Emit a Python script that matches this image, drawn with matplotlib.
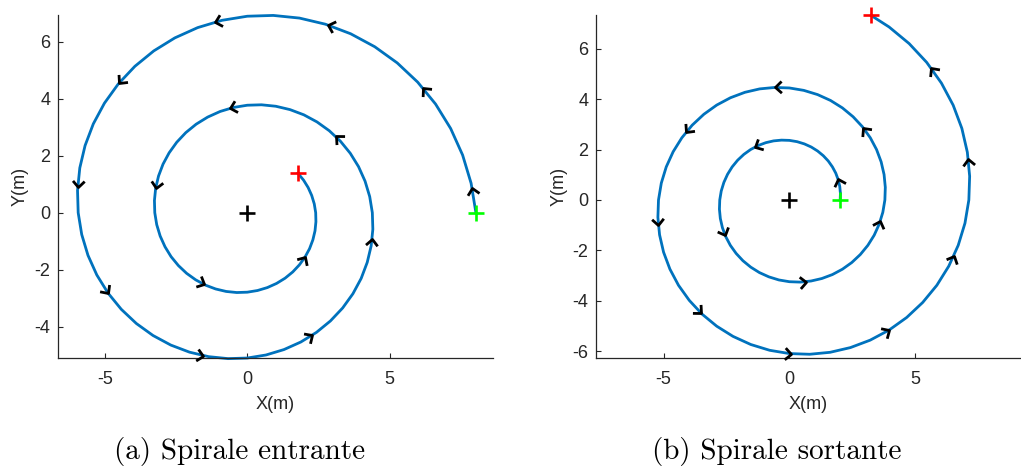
import numpy as np
import matplotlib
matplotlib.use('Agg')
import matplotlib.pyplot as plt
from matplotlib.markers import MarkerStyle
from matplotlib.path import Path
from matplotlib.transforms import Affine2D

# spirale entrante (a): points read along the trajectory
x_in = [8.020, 7.852, 7.554, 7.135, 6.605, 5.976, 5.259, 4.471, 3.627, 2.741, 1.831, 0.912,
        0.000, -0.889, -1.741, -2.542, -3.280, -3.943, -4.523, -5.011, -5.401, -5.690, -5.875, -5.955,
        -5.932, -5.808, -5.588, -5.278, -4.885, -4.420, -3.890, -3.307, -2.683, -2.027, -1.354, -0.674,
        0.000, 0.657, 1.287, 1.880, 2.426, 2.916, 3.345, 3.706, 3.995, 4.208, 4.346, 4.405,
        4.387, 4.295, 4.132, 3.903, 3.613, 3.269, 2.877, 2.445, 1.984, 1.499, 1.001, 0.499,
        0.000, -0.486, -0.952, -1.390, -1.794, -2.157, -2.474, -2.741, -2.955, -3.113, -3.214, -3.257,
        -3.245, -3.177, -3.056, -2.886, -2.673, -2.417, -2.128, -1.809, -1.468, -1.109, -0.741, -0.369,
        0.000, 0.360, 0.704, 1.028, 1.327, 1.595, 1.829, 2.027, 2.185, 2.301, 2.376, 2.408,
        2.400, 2.350, 2.260, 2.135, 1.976, 1.775]
y_in = [0.000, 1.034, 2.024, 2.955, 3.814, 4.585, 5.259, 5.826, 6.281, 6.617, 6.832, 6.925,
        6.897, 6.753, 6.497, 6.136, 5.680, 5.139, 4.523, 3.845, 3.119, 2.357, 1.574, 0.784,
        0.000, -0.765, -1.497, -2.186, -2.821, -3.391, -3.890, -4.310, -4.646, -4.895, -5.053, -5.122,
        -5.101, -4.994, -4.804, -4.538, -4.201, -3.800, -3.345, -2.844, -2.307, -1.743, -1.164, -0.580,
        0.000, 0.565, 1.107, 1.617, 2.086, 2.508, 2.877, 3.187, 3.436, 3.619, 3.737, 3.788,
        3.773, 3.694, 3.554, 3.356, 3.107, 2.811, 2.474, 2.103, 1.706, 1.289, 0.861, 0.429,
        0.000, -0.418, -0.819, -1.196, -1.543, -1.855, -2.128, -2.357, -2.542, -2.677, -2.764, -2.802,
        -2.790, -2.731, -2.628, -2.482, -2.298, -2.079, -1.829, -1.555, -1.262, -0.953, -0.637, -0.317,
        0.000, 0.309, 0.606, 0.884, 1.141, 1.387]
# arrows (position + heading in degrees)
ax_in = [7.891, 6.169, 2.837, -1.132, -4.495, -5.950, -4.880, -1.552, 2.271, 4.381, 3.097, -0.613, -3.215, -1.523, 2.032]
ay_in = [0.857, 4.368, 6.587, 6.692, 4.557, 0.911, -2.828, -5.016, -4.307, -0.907, 2.682, 3.663, 0.855, -2.516, -1.548]
ad_in = [101.7, 130.8, 162.2, 195.1, 230.1, 266.8, 305.6, 348.3, 33.3, 83.8, 136.4, 195.0, 260.6, 334.3, 58.2]

# spirale sortante (b)
x_out = [2.020, 2.029, 2.003, 1.941, 1.844, 1.711, 1.546, 1.348, 1.122, 0.870, 0.596, 0.305,
         0.000, -0.313, -0.628, -0.941, -1.246, -1.538, -1.810, -2.057, -2.275, -2.459, -2.605, -2.710,
         -2.769, -2.782, -2.746, -2.662, -2.528, -2.347, -2.119, -1.849, -1.538, -1.193, -0.817, -0.418,
         0.000, 0.429, 0.862, 1.291, 1.709, 2.108, 2.481, 2.820, 3.119, 3.372, 3.572, 3.715,
         3.797, 3.814, 3.765, 3.649, 3.466, 3.217, 2.905, 2.534, 2.109, 1.636, 1.121, 0.573,
         0.000, -0.588, -1.181, -1.770, -2.343, -2.890, -3.401, -3.867, -4.276, -4.622, -4.897, -5.093,
         -5.205, -5.229, -5.162, -5.003, -4.751, -4.410, -3.982, -3.474, -2.891, -2.242, -1.536, -0.785,
         0.000, 0.806, 1.619, 2.426, 3.212, 3.962, 4.663, 5.300, 5.863, 6.338, 6.713, 6.982,
         7.136, 7.168, 7.076, 6.858, 6.513, 6.045, 5.460, 4.762, 3.964, 3.252]
y_out = [0.000, 0.267, 0.537, 0.804, 1.065, 1.313, 1.546, 1.757, 1.943, 2.101, 2.225, 2.314,
         2.365, 2.375, 2.345, 2.273, 2.159, 2.004, 1.810, 1.579, 1.314, 1.019, 0.698, 0.357,
         0.000, -0.366, -0.736, -1.103, -1.460, -1.801, -2.119, -2.409, -2.664, -2.880, -3.050, -3.173,
         -3.243, -3.258, -3.215, -3.116, -2.960, -2.747, -2.481, -2.164, -1.801, -1.397, -0.957, -0.489,
         0.000, 0.502, 1.009, 1.512, 2.001, 2.469, 2.905, 3.302, 3.653, 3.949, 4.182, 4.349,
         4.445, 4.465, 4.408, 4.272, 4.057, 3.766, 3.401, 2.967, 2.469, 1.915, 1.312, 0.671,
         0.000, -0.688, -1.383, -2.072, -2.743, -3.384, -3.982, -4.528, -5.007, -5.412, -5.734, -5.964,
         -6.094, -6.122, -6.044, -5.857, -5.562, -5.163, -4.663, -4.067, -3.385, -2.625, -1.799, -0.919,
         0.000, 0.944, 1.896, 2.841, 3.761, 4.639, 5.460, 6.206, 6.865, 7.321]
ax_out = [1.927, -1.365, -2.558, 0.660, 3.610, 2.936, -0.572, -4.098, -5.211, -3.524, 0.074, 3.942, 6.535, 7.114, 5.627]
ay_out = [0.850, 2.102, -1.389, -3.242, -0.853, 2.865, 4.466, 2.702, -0.976, -4.479, -6.100, -5.175, -2.225, 1.630, 5.247]
ad_out = [108.1, 207.3, 292.8, 5.8, 71.0, 128.6, 181.6, 230.9, 274.9, 316.1, 355.0, 31.6, 65.5, 97.2, 127.3]

plt.rcParams['font.family'] = ['Liberation Sans', 'DejaVu Sans']
plt.rcParams['axes.unicode_minus'] = False
grey = '#262626'
blue = '#0072BD'

chevron = Path([(-0.8, 0.75), (0, 0), (-0.8, -0.75)], [Path.MOVETO, Path.LINETO, Path.LINETO])

fig = plt.figure(figsize=(10.21, 4.68), dpi=100)
W, H = 1021, 468
axA = fig.add_axes([58/W, 1-358/H, 435/W, 343/H])
axB = fig.add_axes([596/W, 1-358/H, 424/W, 343/H])

panels = [(axA, x_in, y_in, ax_in, ay_in, ad_in, (-6.64, 8.62), (-5.10, 6.94), [-4, -2, 0, 2, 4, 6], '(a) Spirale entrante', 239.5),
          (axB, x_out, y_out, ax_out, ay_out, ad_out, (-7.69, 9.17), (-6.27, 7.34), [-6, -4, -2, 0, 2, 4, 6], '(b) Spirale sortante', 776.5)]

for ax, xs, ys, axx, ayy, add, xl, yl, yt, cap, cx in panels:
    ax.plot(xs, ys, color=blue, lw=2.0, solid_joinstyle='round', zorder=2)
    for px, py, d in zip(axx, ayy, add):
        m = MarkerStyle(chevron, fillstyle='none', transform=Affine2D().rotate_deg(d))
        ax.plot([px], [py], marker=m, ms=9, mec='black', mew=2.0, ls='none', zorder=3)
    ax.plot([0], [0], marker='+', ms=12, mew=1.9, color='black', ls='none', zorder=4)
    ax.plot([xs[0]], [ys[0]], marker='+', ms=12, mew=1.9, color='#00FF00', ls='none', zorder=4)
    ax.plot([xs[-1]], [ys[-1]], marker='+', ms=12, mew=1.9, color='#FF0000', ls='none', zorder=4)
    ax.set_xlim(*xl)
    ax.set_ylim(*yl)
    ax.set_xticks([-5, 0, 5])
    ax.set_yticks(yt)
    for s in ['top', 'right']:
        ax.spines[s].set_visible(False)
    for s in ['left', 'bottom']:
        ax.spines[s].set_color(grey)
        ax.spines[s].set_linewidth(0.9)
    ax.tick_params(direction='in', length=3.5, width=0.8, colors=grey, labelsize=13)
    ax.tick_params(axis='x', pad=9)
    ax.tick_params(axis='y', pad=5.5)
    ax.set_xlabel('X(m)', fontsize=13, color=grey)
    ax.set_ylabel('Y(m)', fontsize=13, color=grey)
    ax.xaxis.set_label_coords(0.5, -0.112)
    ax.yaxis.set_label_coords(-0.068, 0.5)
    for ln in ax.lines:
        ln.set_clip_on(False)
    fig.text(cx/W, 1-452/H, cap, ha='center', va='center',
             fontsize=21, family='cmr10', color='black')

fig.savefig('out.png', dpi=100)
